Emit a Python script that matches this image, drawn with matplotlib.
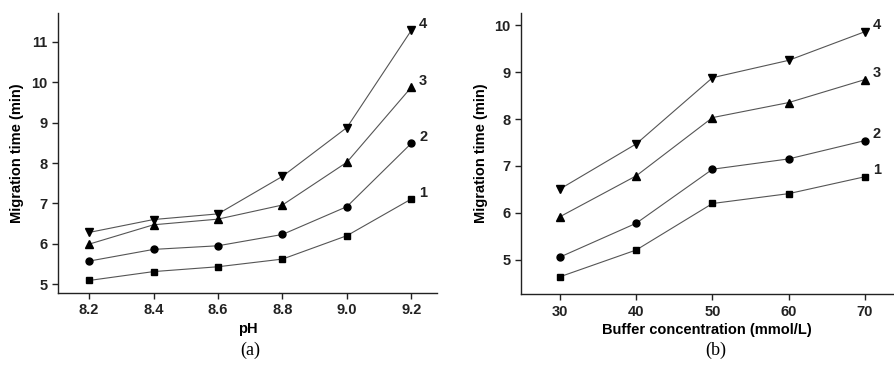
import matplotlib
matplotlib.use("Agg")
import matplotlib.pyplot as plt

# Panel (a): pH
ph = [8.2, 8.4, 8.6, 8.8, 9.0, 9.2]
ph_labels = ["8.2", "8.4", "8.6", "8.8", "9.0", "9.2"]
a_s1 = [5.09, 5.31, 5.43, 5.62, 6.20, 7.11]
a_s2 = [5.57, 5.86, 5.95, 6.23, 6.92, 8.49]
a_s3 = [5.99, 6.47, 6.61, 6.96, 8.02, 9.88]
a_s4 = [6.28, 6.60, 6.74, 7.67, 8.88, 11.29]

# Panel (b): buffer concentration
conc = [30, 40, 50, 60, 70]
b_s1 = [4.64, 5.21, 6.20, 6.41, 6.77]
b_s2 = [5.06, 5.78, 6.93, 7.15, 7.54]
b_s3 = [5.92, 6.79, 8.03, 8.35, 8.84]
b_s4 = [6.51, 7.47, 8.88, 9.25, 9.86]

series_names = ["1", "2", "3", "4"]
markers = ["s", "o", "^", "v"]

plt.rcParams['font.family'] = ['Liberation Sans', 'DejaVu Sans']

fig = plt.figure(figsize=(8.94, 3.69), dpi=100)
ax1 = fig.add_axes([0.065, 0.206, 0.424, 0.759])
ax2 = fig.add_axes([0.583, 0.203, 0.416, 0.762])

def style(ax):
    for s in ["top", "right"]:
        ax.spines[s].set_visible(False)
    for s in ["left", "bottom"]:
        ax.spines[s].set_linewidth(1.0)
        ax.spines[s].set_color("#222222")
    ax.tick_params(direction="out", length=4, width=1.0, labelsize=10.5, colors="#222222")
    for lab in ax.get_xticklabels() + ax.get_yticklabels():
        lab.set_fontweight("bold")

def draw(ax, x, ys):
    for name, y, m in zip(series_names, ys, markers):
        ms = 6 if m in ("^", "v") else 5
        if m == "s":
            ms = 4.5
        ax.plot(x, y, color="#555555", lw=0.8, marker=m, ms=ms,
                markerfacecolor="black", markeredgecolor="black")
        ax.annotate(name, xy=(x[-1], y[-1]), xytext=(8.5, 4.5), textcoords="offset points",
                    fontsize=10.5, fontweight="bold", ha="center", va="center", color="#222222")

draw(ax1, ph, [a_s1, a_s2, a_s3, a_s4])
ax1.set_xlim(8.104, 9.28)
ax1.set_ylim(4.78, 11.72)
ax1.set_xticks(ph)
ax1.set_xticklabels(ph_labels)
ax1.set_yticks(range(5, 12))
ax1.set_xlabel("pH", fontsize=10.5, fontweight="bold", labelpad=3)
ax1.set_ylabel("Migration time (min)", fontsize=10.5, fontweight="bold", labelpad=5)
style(ax1)

draw(ax2, conc, [b_s1, b_s2, b_s3, b_s4])
ax2.set_xlim(24.9, 73.7)
ax2.set_ylim(4.27, 10.26)
ax2.set_xticks(conc)
ax2.set_yticks(range(5, 11))
ax2.set_xlabel("Buffer concentration (mmol/L)", fontsize=10.5, fontweight="bold", labelpad=3)
ax2.set_ylabel("Migration time (min)", fontsize=10.5, fontweight="bold", labelpad=5)
style(ax2)

fig.text(250 / 894, 1 - 350 / 369, "(a)", family="Liberation Serif", fontsize=13,
         ha="center", va="center")
fig.text(716 / 894, 1 - 350 / 369, "(b)", family="Liberation Serif", fontsize=13,
         ha="center", va="center")

fig.savefig("out.png", dpi=100)
